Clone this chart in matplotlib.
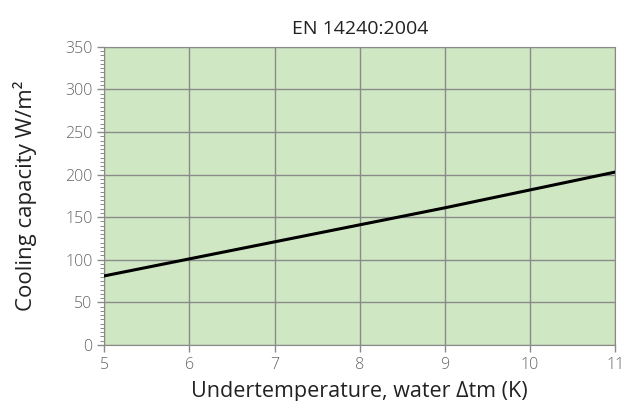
import matplotlib
matplotlib.use("Agg")
import matplotlib.pyplot as plt
from matplotlib.ticker import MultipleLocator

# data
dtm = [5, 6, 7, 8, 9, 10, 11]
capacity = [81, 101, 121, 141, 161, 182, 203]
x_ticks = [5, 6, 7, 8, 9, 10, 11]
y_ticks = [0, 50, 100, 150, 200, 250, 300, 350]

plt.rcParams['font.family'] = ['Open Sans', 'DejaVu Sans']
plt.rcParams['font.weight'] = 'light'

fig = plt.figure(figsize=(6.24, 4.01), dpi=100)
ax = fig.add_axes([0.167, 0.140, 0.819, 0.743])
ax.set_facecolor('#cfe8c3')

ax.plot(dtm, capacity, color='black', lw=2.2, zorder=3)

ax.set_xlim(5, 11)
ax.set_ylim(0, 350)
ax.set_xticks(x_ticks)
ax.set_yticks(y_ticks)
ax.yaxis.set_minor_locator(MultipleLocator(5))
ax.grid(True, which='major', color='#8a8a8a', lw=1)
ax.set_axisbelow(True)

for s in ax.spines.values():
    s.set_color('#8a8a8a')
ax.tick_params(axis='both', which='major', colors='#8a8a8a', labelcolor='#666666',
               labelsize=11.5, length=5, width=1)
ax.tick_params(axis='y', which='minor', colors='#8a8a8a', length=3, width=0.7)

ax.set_xlabel('Undertemperature, water Δtm (K)', fontsize=15.5, color='#222222', labelpad=6)
ax.set_ylabel('Cooling capacity W/m²', fontsize=16, color='#222222', labelpad=20)
ax.set_title('EN 14240:2004', fontsize=14, color='#222222', pad=9)

fig.savefig('out.png', dpi=100)
